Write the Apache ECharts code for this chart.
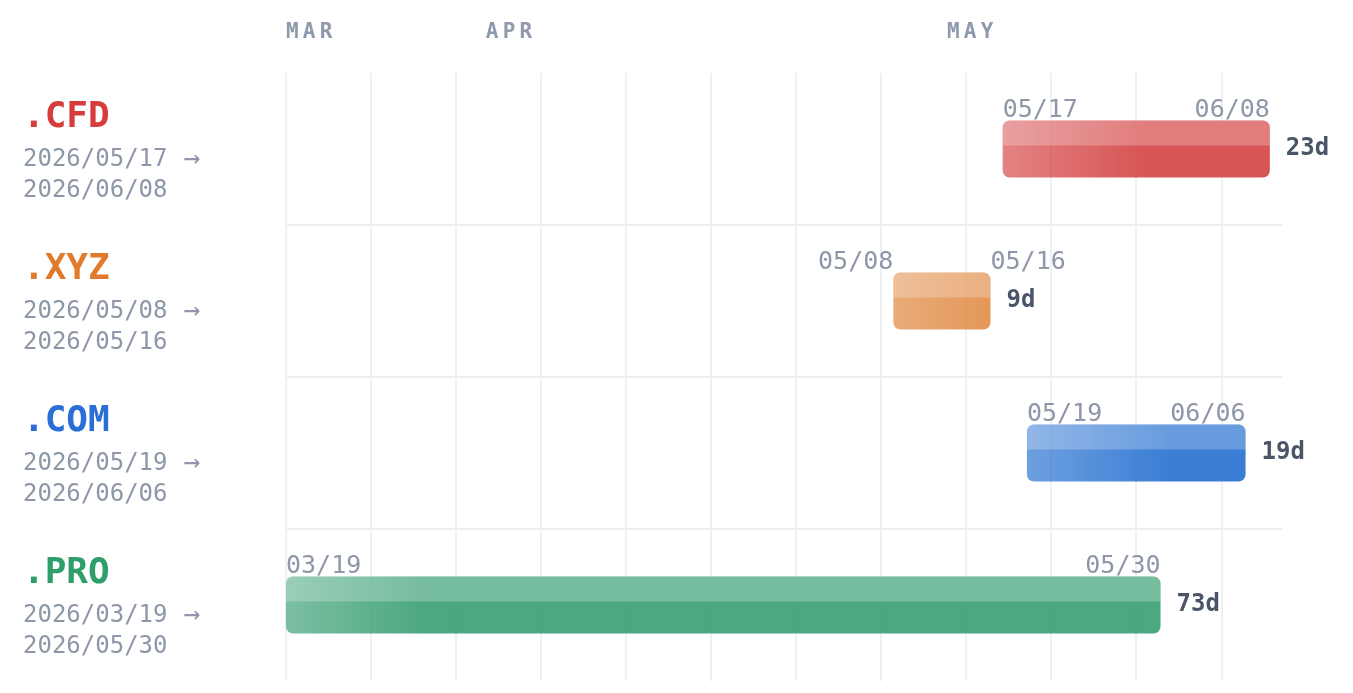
<!DOCTYPE html>
<html>
<head>
<meta charset="utf-8">
<style>
  html, body { margin: 0; padding: 0; background: #ffffff; }
  #main { width: 1353px; height: 693px; }
</style>
<script src="https://cdn.jsdelivr.net/npm/echarts@6/dist/echarts.min.js"></script>
</head>
<body>
<div id="main"></div>
<script>
// data
const tlds = ['.CFD', '.XYZ', '.COM', '.PRO'];
const startDates = ['2026-05-17', '2026-05-08', '2026-05-19', '2026-03-19'];
const endDates = ['2026-06-08', '2026-05-16', '2026-06-06', '2026-05-30'];
const tldColors = ['#d54747', '#df843a', '#2a73d1', '#3ca075'];
const nameColors = ['#d63c3c', '#e07b2e', '#2b6fd6', '#2e9e6a'];
const monthNames = ['MAR', 'APR', 'MAY'];
const monthStarts = ['2026-03-01', '2026-04-01', '2026-05-01'];

const axisStart = '2026-03-19';
const axisEnd = '2026-06-09';

const FONT = '"DejaVu Sans Mono", "Liberation Mono", monospace';
const DAY = 86400000;

function toDay(s) {
    const [y, m, d] = s.split('-').map(Number);
    const [y0, m0, d0] = axisStart.split('-').map(Number);
    return Math.round((Date.UTC(y, m - 1, d) - Date.UTC(y0, m0 - 1, d0)) / DAY);
}

function shortDate(s) {
    return s.slice(5).replace('-', '/');
}

function rgba(hex, a) {
    const n = parseInt(hex.slice(1), 16);
    return `rgba(${n >> 16},${(n >> 8) & 255},${n & 255},${a})`;
}

const barData = tlds.map((t, i) => [i, toDay(startDates[i]), toDay(endDates[i]), i]);

// month header uses its own (wider) day scale
const monthOffsets = monthStarts.map(s => Math.max(0, toDay(s)));

const richNames = {};
nameColors.forEach((c, i) => {
    richNames['n' + i] = {
        fontFamily: FONT, fontSize: 36, fontWeight: 'bold', color: c, lineHeight: 53
    };
});

function renderBar(params, api) {
    const idx = api.value(3);
    const color = tldColors[idx];
    const p0 = api.coord([api.value(1), api.value(0)]);
    const p1 = api.coord([api.value(2), api.value(0)]);
    const h = api.size([0, 1])[1] * 0.375;
    const top = p0[1] - h / 2;
    const w = p1[0] - p0[0];
    // fade in over the first ~140px of each bar
    const fade = new echarts.graphic.LinearGradient(p0[0], 0, p0[0] + 140, 0, [
        {offset: 0, color: rgba(color, 0.68)},
        {offset: 1, color: rgba(color, 0.92)}
    ], true);
    const s = shortDate(startDates[idx]);
    const e = shortDate(endDates[idx]);
    const inside = w > 170;
    const dateStyle = {fontFamily: FONT, fontSize: 25, fill: '#8d97a8', verticalAlign: 'bottom'};
    const dur = api.value(2) - api.value(1) + 1;
    return {
        type: 'group',
        children: [
            {type: 'rect', shape: {x: p0[0], y: top, width: w, height: h, r: 7}, style: {fill: fade}},
            {type: 'rect', shape: {x: p0[0], y: top, width: w, height: h * 0.44, r: [7, 7, 0, 0]},
                style: {fill: 'rgba(255,255,255,0.24)'}},
            {type: 'text', style: Object.assign({text: s, x: p0[0], y: top + 2, align: inside ? 'left' : 'right'}, dateStyle)},
            {type: 'text', style: Object.assign({text: e, x: p1[0], y: top + 2, align: inside ? 'right' : 'left'}, dateStyle)},
            {type: 'text', style: {text: dur + 'd', x: p1[0] + 16, y: p0[1], align: 'left', verticalAlign: 'middle',
                fontFamily: FONT, fontSize: 24, fontWeight: 'bold', fill: '#4a5568'}}
        ]
    };
}

const chart = echarts.init(document.getElementById('main'));
chart.setOption({
    animation: false,
    backgroundColor: '#ffffff',
    grid: {left: 286, right: 71, top: 73, bottom: 12},
    xAxis: [{
        type: 'value',
        min: 0,
        max: toDay(axisEnd),
        interval: 7,
        axisLine: {show: false},
        axisTick: {show: false},
        axisLabel: {show: false},
        splitLine: {show: true, showMaxLine: false, lineStyle: {color: '#eff0f3', width: 2}}
    }, {
        type: 'value',
        position: 'top',
        min: 0,
        max: 64.8,
        axisLine: {show: false},
        axisTick: {show: false},
        splitLine: {show: false},
        axisLabel: {
            customValues: monthOffsets,
            margin: 30,
            align: 'left',
            formatter: v => {
                const name = monthNames[monthOffsets.indexOf(v)] || '';
                return name.split('').map(ch => '{m|' + ch + '}').join('{s| }');
            },
            rich: {
                m: {fontFamily: FONT, fontSize: 21, fontWeight: 'bold', color: '#8e99ab'},
                s: {fontFamily: FONT, fontSize: 7}
            }
        }
    }],
    yAxis: {
        type: 'category',
        inverse: true,
        data: tlds,
        axisLine: {show: false},
        axisTick: {show: false},
        splitLine: {show: true, showMinLine: false, showMaxLine: false, lineStyle: {color: '#eceef2', width: 2}},
        axisLabel: {
            align: 'left',
            margin: 263,
            formatter: (v, i) => `{n${i}|${v}}\n{d|${startDates[i].replace(/-/g, '/')}}{a|→}\n{d|${endDates[i].replace(/-/g, '/')}}`,
            rich: Object.assign({
                d: {fontFamily: FONT, fontSize: 24, color: '#8d97a8', lineHeight: 31},
                a: {fontFamily: FONT, fontSize: 28, color: '#8d97a8', lineHeight: 31, padding: [0, 0, 0, 16]}
            }, richNames)
        }
    },
    series: [{
        type: 'custom',
        renderItem: renderBar,
        encode: {x: [1, 2], y: 0},
        data: barData
    }]
});
</script>
</body>
</html>
